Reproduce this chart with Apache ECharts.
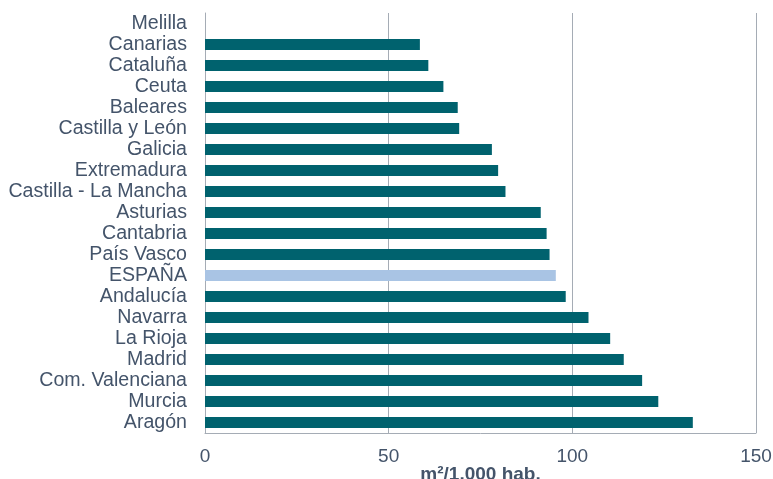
<!DOCTYPE html>
<html>
<head>
<meta charset="utf-8">
<script src="https://cdn.jsdelivr.net/npm/echarts@6/dist/echarts.min.js"></script>
<style>
  html, body { margin: 0; padding: 0; background: #fff; }
  #chart { width: 773px; height: 479px; }
</style>
</head>
<body>
<div id="chart"></div>
<script>
// regiones, de arriba a abajo
const regiones = ['Melilla', 'Canarias', 'Cataluña', 'Ceuta', 'Baleares', 'Castilla y León', 'Galicia',
  'Extremadura', 'Castilla - La Mancha', 'Asturias', 'Cantabria', 'País Vasco', 'ESPAÑA', 'Andalucía',
  'Navarra', 'La Rioja', 'Madrid', 'Com. Valenciana', 'Murcia', 'Aragón']
// m²/1.000 hab.
const valores = [null, 58.5, 60.8, 64.9, 68.8, 69.2, 78.1, 79.8, 81.8, 91.4, 93.0, 93.8, 95.5, 98.2,
  104.4, 110.3, 114.0, 119.0, 123.4, 132.8]
const ticksX = [0, 50, 100, 150]

const colorBarra = '#00626e'
const colorTotal = '#a9c4e4'
const colorTexto = '#44546a'
const colorLinea = '#a5acb5'
const fuente = 'Liberation Sans, Arial, sans-serif'

const chart = echarts.init(document.getElementById('chart'))

const option = {
  animation: false,
  grid: { left: 205, right: 17, top: 13, bottom: 46, containLabel: false, outerBoundsMode: 'none' },
  xAxis: {
    type: 'value',
    min: ticksX[0],
    max: ticksX[ticksX.length - 1],
    interval: 50,
    name: 'm²/1.000 hab.',
    nameLocation: 'middle',
    nameGap: 32,
    nameMoveOverlap: false,
    nameTextStyle: { color: colorTexto, fontSize: 19, fontWeight: 'bold', fontFamily: fuente },
    axisLine: { show: true, lineStyle: { color: colorLinea, width: 1 } },
    axisTick: { show: false },
    axisLabel: { color: colorTexto, fontSize: 19, margin: 14, fontFamily: fuente },
    splitLine: { show: true, lineStyle: { color: colorLinea, width: 1 } }
  },
  yAxis: {
    type: 'category',
    inverse: true,
    data: regiones,
    axisLine: { show: true, lineStyle: { color: colorLinea, width: 1 } },
    axisTick: { show: false },
    axisLabel: { color: colorTexto, fontSize: 19.6, margin: 18, interval: 0, fontFamily: fuente }
  },
  series: [
    {
      type: 'bar',
      barWidth: 11,
      data: valores.map((v, i) => ({
        value: v,
        itemStyle: { color: regiones[i] === 'ESPAÑA' ? colorTotal : colorBarra }
      }))
    }
  ]
}

chart.setOption(option)
</script>
</body>
</html>
